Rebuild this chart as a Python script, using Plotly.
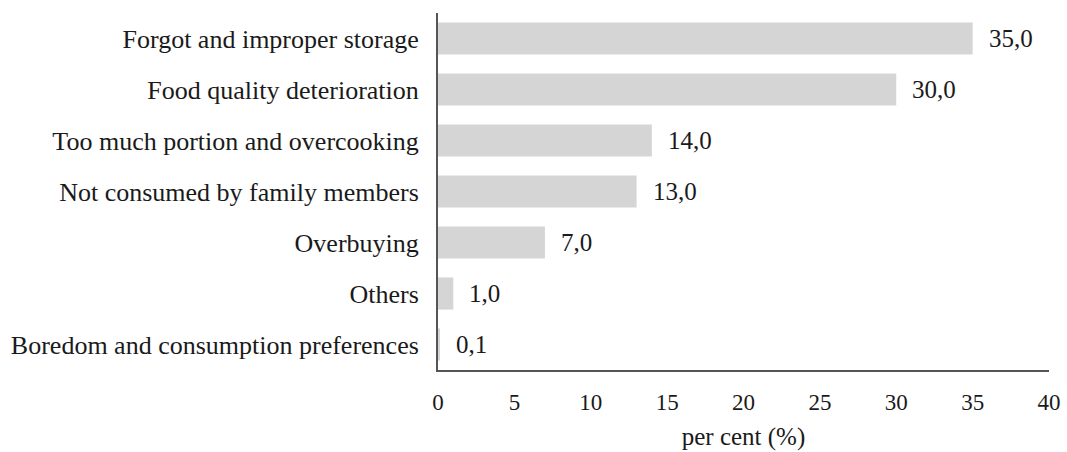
import plotly.graph_objects as go

categories = [
    "Forgot and improper storage",
    "Food quality deterioration",
    "Too much portion and overcooking",
    "Not consumed by family members",
    "Overbuying",
    "Others",
    "Boredom and consumption preferences",
]
values = [35.0, 30.0, 14.0, 13.0, 7.0, 1.0, 0.1]
value_labels = ["35,0", "30,0", "14,0", "13,0", "7,0", "1,0", "0,1"]
x_ticks = [0, 5, 10, 15, 20, 25, 30, 35, 40]

font_family = "Liberation Serif"
text_color = "#1a1a1a"

fig = go.Figure(
    go.Bar(
        x=values,
        y=categories,
        orientation="h",
        marker=dict(color="#d5d5d5", line=dict(width=0)),
        hoverinfo="x+y",
    )
)

# value labels placed just right of each bar end
for cat, val, lab in zip(categories, values, value_labels):
    fig.add_annotation(
        x=val,
        y=cat,
        text=lab,
        showarrow=False,
        xanchor="left",
        xshift=14,
        font=dict(family=font_family, size=25, color=text_color),
    )

fig.update_layout(
    width=1067,
    height=452,
    margin=dict(l=438, r=18, t=13, b=82),
    paper_bgcolor="white",
    plot_bgcolor="white",
    bargap=0.37,
    showlegend=False,
    font=dict(family=font_family, size=23, color=text_color),
)

fig.update_xaxes(
    range=[0, 40],
    tickvals=x_ticks,
    ticktext=[str(t) for t in x_ticks],
    automargin=False,
    showgrid=False,
    zeroline=False,
    showline=True,
    linecolor="#555",
    linewidth=2,
    ticks="",
    ticklabelstandoff=10,
    tickfont=dict(family=font_family, size=23, color=text_color),
    title=dict(text="per cent (%)", font=dict(family=font_family, size=25, color=text_color), standoff=14),
)

fig.update_yaxes(
    categoryorder="array",
    categoryarray=categories[::-1],
    automargin=False,
    showgrid=False,
    zeroline=False,
    showline=True,
    linecolor="#555",
    linewidth=2,
    ticks="",
    ticklabelstandoff=12,
    tickfont=dict(family=font_family, size=26, color=text_color),
)

fig.write_html("out.html")
